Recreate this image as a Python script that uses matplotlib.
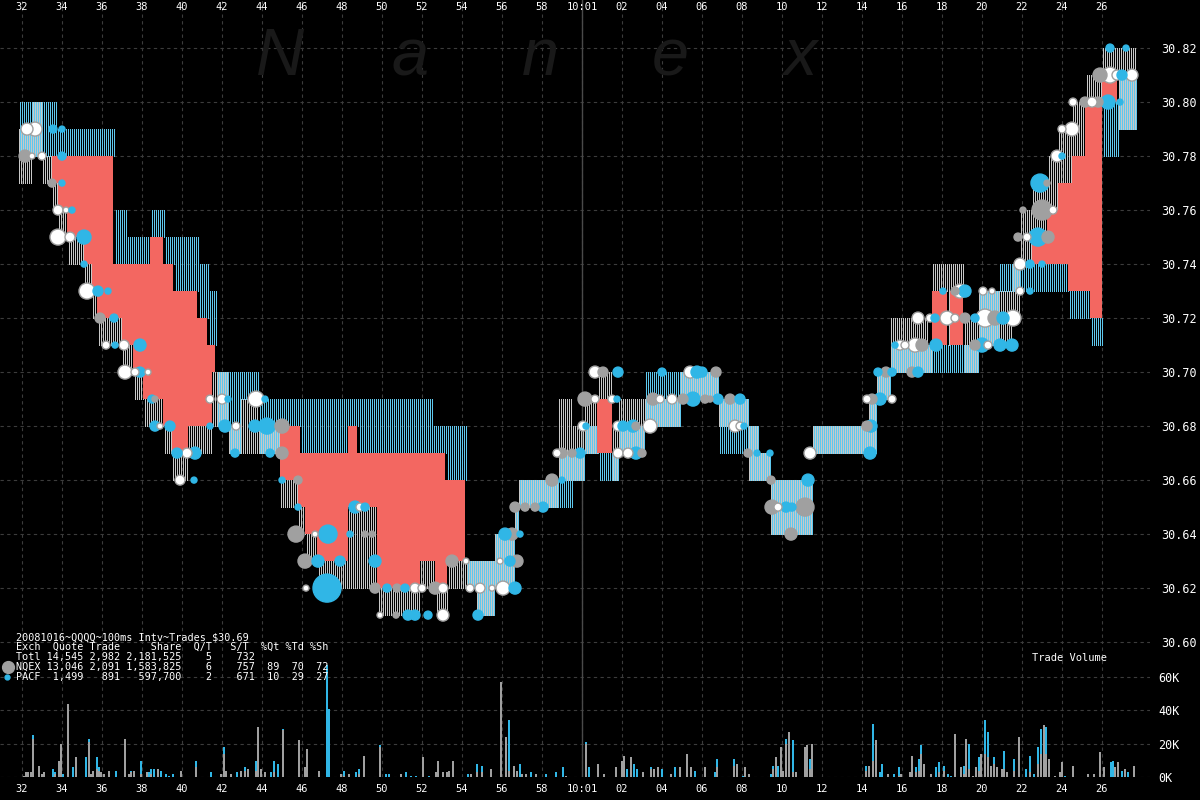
import numpy as np
import matplotlib
matplotlib.use('Agg')
import matplotlib.pyplot as plt
from matplotlib.transforms import blended_transform_factory

# time = seconds after 10:00:00, prices in cents above $30.00

# NQEX quotes (step changes)
NQ_T = [31.8, 32.5, 33.0, 33.5, 33.8, 34.25, 35.1, 35.5, 35.75, 37.0,
        37.55, 38.05, 39.05, 39.5, 40.3, 41.5, 42.25, 42.9, 43.8, 44.9,
        45.8, 46.15, 46.75, 48.3, 49.75, 51.9, 52.65, 53.25, 54.65, 55.55,
        56.55, 56.8, 58.8, 59.5, 60.05, 60.75, 61.5, 61.8, 63.05, 64.9,
        66.8, 68.25, 68.75, 69.4, 71.5, 74.3, 74.65, 75.4, 77.25, 77.5,
        78.25, 78.4, 79.05, 79.75, 81.5, 81.9, 82.5, 83.25, 83.8, 84.5,
        85.15, 86.0, 86.75]
NQ_BID = [77, 78, 77, 76, 75, 74, 73, 72, 71, 70,
          69, 68, 67, 66, 67, 68, 67, 67, 67, 65,
          64, 63, 62, 62, 61, 62, 61, 62, 61, 62,
          64, 65, 66, 66, 67, 69, 66, 67, 68, 69,
          68, 66, 66, 64, 67, 67, 69, 70, 70, 73,
          71, 73, 70, 71, 72, 74, 75, 76, 77, 78,
          80, 81, 79]
NQ_ASK = [79, 80, 78, 77, 76, 75, 74, 73, 72, 71,
          70, 69, 68, 67, 68, 70, 68, 69, 68, 66,
          65, 64, 63, 65, 62, 63, 62, 63, 63, 64,
          65, 66, 69, 68, 69, 70, 68, 69, 69, 70,
          69, 68, 67, 66, 68, 69, 70, 72, 71, 74,
          74, 74, 72, 73, 74, 76, 77, 78, 79, 80,
          81, 82, 82]

# PACF quotes (step changes)
PA_T = [31.8, 33.65, 36.55, 37.15, 38.4, 39.05, 39.55, 40.75, 41.25, 41.65,
        42.25, 42.9, 43.8, 44.9, 45.9, 48.3, 48.75, 52.5, 53.15, 54.15,
        54.65, 55.55, 56.55, 56.8, 58.8, 59.5, 60.05, 60.75, 61.8, 63.05,
        64.9, 66.8, 68.25, 68.75, 69.4, 71.5, 74.3, 74.65, 75.4, 79.75,
        80.8, 84.3, 85.4, 86.0, 86.75]
PA_BID = [78, 78, 74, 74, 75, 74, 73, 72, 71, 68,
          67, 69, 67, 68, 67, 68, 67, 67, 66, 62,
          61, 62, 64, 65, 65, 66, 67, 66, 67, 68,
          69, 67, 66, 66, 64, 67, 67, 69, 70, 71,
          73, 72, 71, 78, 79]
PA_ASK = [80, 79, 76, 75, 76, 75, 75, 74, 73, 70,
          70, 70, 69, 69, 69, 69, 69, 68, 68, 63,
          63, 64, 65, 66, 67, 67, 68, 67, 68, 70,
          70, 69, 68, 67, 66, 68, 69, 70, 71, 73,
          74, 73, 72, 80, 81]
QUOTE_END = 87.65

# trades: time, price (cents), size
NQ_TR_T = [32.15, 33.5, 35.9, 38.65, 45.0, 45.0, 45.8, 45.7, 46.15, 49.15,
           49.5, 49.65, 50.75, 52.65, 50.7, 53.5, 56.75, 56.5, 56.65, 57.15,
           57.65, 58.5, 59.0, 59.5, 60.15, 61.05, 62.7, 63.0, 63.55, 65.05,
           66.15, 66.4, 67.4, 66.7, 68.3, 69.45, 69.5, 71.15, 70.45, 74.25,
           74.5, 75.2, 76.5, 77.0, 78.65, 79.15, 80.65, 79.65, 81.8, 83.3,
           82.05, 83.0, 83.25, 85.15, 85.8, 85.9]
NQ_TR_PX = [78, 77, 72, 69, 68, 67, 66, 64, 63, 64,
            64, 62, 62, 62, 61, 63, 63, 64, 65, 65,
            65, 66, 67, 67, 69, 70, 68, 67, 69, 69,
            69, 69, 69, 70, 67, 66, 65, 65, 64, 68,
            69, 70, 70, 71, 73, 72, 72, 71, 75, 75,
            76, 76, 77, 80, 80, 81]
NQ_TR_SIZE = [6, 4, 5, 3, 7, 6, 4, 8, 7, 3,
              3, 5, 4, 6, 3, 6, 6, 6, 5, 4,
              4, 6, 5, 4, 7, 5, 4, 4, 6, 5,
              4, 3, 5, 5, 4, 4, 7, 9, 6, 5,
              5, 5, 5, 6, 4, 5, 7, 5, 4, 6,
              3, 10, 3, 5, 5, 7]

PA_TR_T = [33.55, 34.0, 34.0, 34.0, 34.5, 35.1, 35.1, 35.8, 36.3, 36.6,
           36.65, 37.9, 37.9, 38.5, 38.65, 39.4, 39.75, 40.65, 40.6, 42.3,
           44.15, 41.4, 42.15, 43.65, 44.25, 42.65, 44.4, 45.0, 45.8, 47.3,
           46.8, 47.9, 47.25, 48.65, 49.15, 48.4, 49.65, 50.25, 51.15, 51.3,
           51.65, 52.3, 56.65, 54.8, 56.4, 56.15, 56.9, 58.05, 59.0, 59.9,
           60.2, 61.75, 61.8, 62.05, 62.55, 62.7, 65.55, 66.8, 67.9, 64.0,
           65.75, 66.0, 68.1, 68.75, 69.4, 70.2, 70.5, 71.3, 74.4, 74.45,
           74.9, 74.8, 75.5, 76.8, 75.65, 77.7, 77.65, 78.05, 79.15, 79.65,
           81.05, 80.0, 80.9, 81.5, 82.4, 82.4, 83.0, 82.8, 82.9, 84.0,
           86.3, 86.9, 87.0, 86.4, 87.2]
PA_TR_PX = [79, 79, 78, 77, 76, 75, 74, 73, 73, 72,
            71, 71, 70, 69, 68, 68, 67, 67, 66, 69,
            69, 68, 68, 68, 68, 67, 67, 66, 65, 64,
            63, 63, 62, 65, 65, 64, 63, 62, 62, 61,
            61, 61, 62, 61, 63, 64, 64, 65, 66, 67,
            68, 69, 70, 68, 68, 67, 69, 69, 69, 70,
            70, 70, 68, 67, 67, 65, 65, 66, 67, 68,
            69, 70, 70, 70, 71, 71, 72, 73, 73, 72,
            72, 71, 71, 71, 73, 74, 74, 75, 77, 78,
            80, 80, 81, 82, 82]
PA_TR_SIZE = [4, 3, 4, 3, 3, 7, 3, 5, 3, 4,
              3, 6, 5, 4, 5, 5, 5, 6, 3, 3,
              3, 3, 6, 6, 8, 4, 4, 3, 3, 9,
              6, 5, 14, 6, 4, 3, 6, 4, 4, 5,
              5, 4, 6, 5, 5, 6, 3, 5, 3, 5,
              3, 3, 5, 5, 6, 6, 7, 5, 5, 4,
              6, 5, 3, 3, 3, 5, 4, 6, 6, 6,
              6, 4, 4, 5, 3, 6, 4, 3, 6, 4,
              6, 7, 6, 6, 3, 4, 3, 9, 9, 3,
              7, 3, 5, 4, 3]

OT_TR_T = [32.25, 32.65, 32.5, 33.0, 33.8, 34.2, 33.8, 34.4, 35.25, 36.2,
           37.1, 37.15, 37.65, 38.3, 38.9, 40.25, 39.9, 41.4, 42.0, 43.7,
           42.7, 46.65, 46.2, 48.9, 51.65, 52.0, 53.05, 49.9, 53.05, 54.2,
           54.4, 54.9, 55.5, 56.05, 55.9, 58.75, 60.05, 60.65, 61.5, 60.65,
           61.8, 63.4, 61.8, 62.3, 63.9, 64.5, 65.4, 67.65, 67.9, 69.8,
           71.4, 74.25, 75.5, 75.9, 76.15, 76.65, 76.8, 77.4, 78.25, 78.65,
           78.9, 80.05, 80.5, 80.15, 81.55, 80.3, 81.9, 81.9, 82.25, 83.55,
           83.75, 84.0, 84.5, 84.55, 85.5, 86.4, 86.75, 87.5]
OT_TR_PX = [79, 79, 78, 78, 76, 76, 75, 75, 73, 71,
            71, 70, 70, 70, 68, 67, 66, 69, 69, 69,
            68, 64, 62, 65, 62, 62, 62, 61, 61, 63,
            62, 62, 62, 62, 63, 67, 68, 69, 69, 70,
            68, 68, 67, 67, 69, 69, 70, 68, 68, 65,
            67, 69, 69, 71, 71, 71, 72, 72, 72, 72,
            73, 73, 73, 72, 72, 71, 73, 74, 75, 76,
            78, 79, 79, 80, 80, 81, 81, 81]
OT_TR_SIZE = [6, 7, 3, 4, 5, 3, 8, 5, 8, 4,
              5, 7, 4, 3, 3, 5, 5, 4, 5, 8,
              4, 3, 3, 4, 5, 4, 5, 3, 6, 3,
              4, 5, 3, 7, 3, 4, 5, 4, 4, 6,
              5, 7, 5, 5, 4, 5, 6, 6, 4, 4,
              6, 4, 4, 5, 4, 7, 6, 4, 7, 4,
              7, 4, 3, 9, 8, 4, 4, 6, 4, 4,
              6, 4, 7, 4, 5, 8, 5, 6]

# volume per 100ms interval, thousands of shares
VOL_T = [32.05, 32.15, 32.25, 32.4, 32.5, 32.8, 32.95, 33.05, 33.5, 33.6,
         33.8, 33.9, 34.0, 34.25, 34.5, 34.65, 35.15, 35.3, 35.4, 35.5,
         35.7, 35.8, 35.9, 36.05, 36.3, 36.65, 37.1, 37.3, 37.4, 37.55,
         37.9, 38.2, 38.3, 38.4, 38.55, 38.75, 38.9, 39.15, 39.3, 39.5,
         39.9, 40.65, 41.4, 41.9, 42.05, 42.15, 42.4, 42.7, 42.9, 43.1,
         43.25, 43.65, 43.75, 43.9, 44.1, 44.4, 44.55, 44.75, 45.0, 45.8,
         46.1, 46.2, 46.8, 47.2, 47.3, 47.9, 48.05, 48.3, 48.65, 48.8,
         49.05, 49.85, 50.15, 50.3, 50.9, 51.15, 51.4, 51.65, 52.0, 52.3,
         52.65, 52.75, 53.0, 53.2, 53.3, 53.5, 54.25, 54.4, 54.7, 54.95,
         55.4, 55.9, 56.15, 56.3, 56.55, 56.7, 56.85, 56.95, 57.15, 57.4,
         57.65, 58.15, 58.65, 59.0, 59.15, 60.15, 60.3, 60.75, 61.05, 61.65,
         61.95, 62.05, 62.2, 62.4, 62.55, 62.7, 63.0, 63.4, 63.55, 63.75,
         63.95, 64.4, 64.6, 64.85, 65.2, 65.4, 65.6, 66.1, 66.6, 66.7,
         67.55, 67.7, 68.0, 68.1, 68.3, 69.4, 69.5, 69.65, 69.75, 69.9,
         70.0, 70.15, 70.3, 70.5, 70.65, 71.1, 71.2, 71.35, 71.45, 74.15,
         74.3, 74.5, 74.65, 74.85, 74.95, 75.25, 75.55, 75.8, 75.9, 76.35,
         76.45, 76.65, 76.8, 76.9, 77.05, 77.4, 77.65, 77.8, 78.05, 78.25,
         78.4, 78.6, 78.9, 79.05, 79.15, 79.3, 79.5, 79.65, 79.8, 79.9,
         80.1, 80.25, 80.4, 80.55, 80.7, 80.95, 81.05, 81.2, 81.55, 81.8,
         82.15, 82.35, 82.55, 82.75, 82.9, 83.05, 83.15, 83.3, 83.6, 83.85,
         83.95, 84.1, 84.5, 85.25, 85.55, 85.85, 86.05, 86.4, 86.5, 86.6,
         86.75, 86.95, 87.1, 87.25, 87.55]
VOL_NQ = [1, 3, 3, 3, 23, 7, 2, 3, 0, 2,
          10, 20, 0, 44, 0, 12, 0, 21, 2, 4,
          5, 4, 3, 2, 4, 0, 23, 2, 3, 4,
          2, 3, 0, 2, 0, 5, 0, 0, 0, 0,
          4, 6, 0, 2, 14, 4, 2, 0, 4, 4,
          5, 4, 30, 5, 3, 0, 3, 0, 28, 22,
          6, 17, 4, 0, 0, 2, 1, 2, 0, 2,
          13, 18, 0, 0, 2, 0, 0, 0, 12, 0,
          3, 10, 3, 3, 4, 10, 0, 2, 3, 3,
          5, 57, 24, 4, 7, 4, 0, 2, 2, 0,
          2, 0, 0, 0, 1, 20, 0, 8, 2, 6,
          10, 13, 0, 12, 0, 0, 3, 5, 5, 6,
          0, 2, 0, 6, 14, 6, 0, 6, 0, 6,
          7, 8, 0, 6, 2, 0, 5, 12, 0, 18,
          4, 20, 27, 3, 3, 18, 19, 5, 20, 4,
          7, 10, 22, 0, 0, 2, 0, 1, 2, 3,
          13, 3, 4, 14, 8, 2, 0, 3, 4, 0,
          0, 26, 6, 2, 23, 5, 1, 6, 4, 14,
          14, 12, 7, 8, 6, 5, 5, 3, 4, 24,
          0, 3, 0, 8, 14, 31, 14, 11, 1, 3,
          9, 0, 7, 2, 2, 15, 6, 0, 0, 6,
          9, 0, 5, 0, 7]
VOL_PA = [0, 0, 0, 0, 2, 0, 0, 0, 5, 1,
          0, 0, 2, 0, 6, 0, 12, 2, 0, 0,
          7, 2, 0, 0, 0, 4, 0, 0, 1, 0,
          8, 0, 3, 3, 5, 0, 4, 2, 1, 2,
          0, 4, 3, 0, 4, 0, 0, 3, 0, 2,
          0, 6, 0, 0, 0, 3, 7, 8, 1, 0,
          0, 0, 0, 67, 41, 0, 3, 0, 3, 3,
          0, 1, 2, 2, 0, 3, 1, 1, 0, 1,
          0, 0, 0, 0, 0, 0, 2, 0, 5, 4,
          0, 0, 0, 30, 0, 0, 8, 0, 0, 3,
          0, 2, 3, 6, 0, 1, 6, 0, 0, 0,
          0, 0, 5, 0, 8, 5, 0, 1, 0, 0,
          5, 0, 6, 0, 0, 0, 4, 0, 3, 5,
          4, 0, 1, 0, 0, 2, 2, 0, 7, 0,
          0, 3, 0, 19, 0, 0, 0, 6, 0, 3,
          0, 22, 0, 3, 8, 0, 2, 5, 0, 0,
          0, 3, 7, 5, 0, 0, 6, 6, 3, 2,
          1, 0, 0, 5, 0, 15, 0, 0, 8, 0,
          20, 15, 0, 4, 0, 0, 11, 0, 7, 0,
          5, 10, 2, 10, 15, 0, 16, 0, 0, 0,
          0, 1, 0, 0, 0, 0, 0, 9, 10, 0,
          0, 4, 0, 3, 0]

X_TICKS = list(range(32, 88, 2))
X_LABELS = ['32', '34', '36', '38', '40', '42', '44', '46', '48', '50',
            '52', '54', '56', '58', '10:01', '02', '04', '06', '08', '10',
            '12', '14', '16', '18', '20', '22', '24', '26']
PRICE_TICKS = [30.60, 30.62, 30.64, 30.66, 30.68, 30.70, 30.72, 30.74,
               30.76, 30.78, 30.80, 30.82]
VOL_TICKS = [0, 20, 40, 60]
VOL_LABELS = ['0K', '20K', '40K', '60K']

SUMMARY = [
    '20081016~QQQQ~100ms Intv~Trades $30.69',
    'Exch  Quote Trade     Share  Q/T   S/T  %Qt %Td %Sh',
    'Totl 14,545 2,982 2,181,525    5    732',
    'NQEX 13,046 2,091 1,583,825    6    757  89  70  72',
    'PACF  1,499   891   597,700    2    671  10  29  27',
]

GRID = '#3c3c3c'
GRAY_Q = '#c8c8c8'
CYAN_Q = '#5ec8ee'
RED = '#f36761'
GRAY_T = '#a0a0a0'
CYAN_T = '#30b6e6'


def step_values(t_break, vals, t):
    idx = np.searchsorted(t_break, t, side='right') - 1
    return np.asarray(vals, dtype=float)[idx]


def cents(c):
    return 30.0 + np.asarray(c, dtype=float) / 100.0


def msize(sz):
    # trade size -> marker area (points^2)
    return (1.44 * np.asarray(sz, dtype=float)) ** 2


plt.rcParams['font.family'] = 'DejaVu Sans Mono'
fig = plt.figure(figsize=(12, 8), dpi=100, facecolor='black')
W = 1150 / 1200
ax = fig.add_axes([0, 156 / 800, W, 644 / 800], facecolor='black')
axv = fig.add_axes([0, 22.7 / 800, W, 133.3 / 800], facecolor='black', sharex=ax)

for a in (ax, axv):
    for sp in a.spines.values():
        sp.set_visible(False)
    a.set_xlim(30.9, 88.4)
    a.set_xticks(X_TICKS)
    a.grid(True, color=GRID, linestyle=(0, (3, 3)), linewidth=0.8)
    a.set_axisbelow(True)
    a.axvline(60, color='#4a4a4a', linewidth=1.0, zorder=1)

# price panel
ax.set_ylim(30.5993, 30.8378)
ax.set_yticks(PRICE_TICKS)
ax.set_yticklabels(['%.2f' % p for p in PRICE_TICKS])
ax.yaxis.tick_right()
ax.tick_params(axis='y', colors='white', labelsize=8.5, length=0, pad=8)
ax.tick_params(axis='x', length=0, labelbottom=False, labeltop=False)

tr = blended_transform_factory(ax.transData, ax.transAxes)
for t, lab in zip(X_TICKS, X_LABELS):
    ax.text(t, 1 - 7 / 644, lab, transform=tr, ha='center', va='center',
            color='white', fontsize=7.5)

# watermark
for xp, ch in zip([280, 410, 540, 670, 800], 'Nanex'):
    fig.text(xp / 1200, 1 - 75 / 800, ch, ha='center', va='baseline',
             fontsize=48, style='italic', color='#191919',
             family='Liberation Sans', zorder=0)

# quote hatching, one line per 100ms per exchange
slots = np.arange(31.8, QUOTE_END - 1e-6, 0.1)
nb = step_values(NQ_T, NQ_BID, slots)
na = step_values(NQ_T, NQ_ASK, slots)
pb = step_values(PA_T, PA_BID, slots)
pa = step_values(PA_T, PA_ASK, slots)
ax.vlines(slots + 0.025, cents(nb), cents(na), colors=GRAY_Q,
          linewidth=0.72, antialiased=False, zorder=2)
ax.vlines(slots + 0.075, cents(pb), cents(pa), colors=CYAN_Q,
          linewidth=0.72, antialiased=False, zorder=2)

# crossed market: best bid above best ask
edges = sorted(set(NQ_T) | set(PA_T)) + [QUOTE_END]
e0 = np.array(edges[:-1])
e1 = np.array(edges[1:])
hb = np.maximum(step_values(NQ_T, NQ_BID, e0), step_values(PA_T, PA_BID, e0))
la = np.minimum(step_values(NQ_T, NQ_ASK, e0), step_values(PA_T, PA_ASK, e0))
cross = hb > la
ax.bar(e0[cross], cents(hb[cross]) - cents(la[cross]), width=(e1 - e0)[cross],
       bottom=cents(la[cross]), align='edge', color=RED, linewidth=0,
       antialiased=False, zorder=3)

# trades
groups = [
    (NQ_TR_T, NQ_TR_PX, NQ_TR_SIZE, GRAY_T, GRAY_T),
    (OT_TR_T, OT_TR_PX, OT_TR_SIZE, 'white', GRAY_T),
    (PA_TR_T, PA_TR_PX, PA_TR_SIZE, CYAN_T, CYAN_T),
]
pts = []
for tt, pp, ss, fc, ec in groups:
    for t, p, s in zip(tt, pp, ss):
        pts.append((s, t, p, fc, ec))
pts.sort(key=lambda r: -r[0])
sz = np.array([r[0] for r in pts])
ax.scatter([r[1] for r in pts], cents([r[2] for r in pts]), s=msize(sz),
           c=[r[3] for r in pts], edgecolors=[r[4] for r in pts],
           linewidths=1.0, zorder=4)

# volume panel
axv.set_ylim(0, 79.6)
axv.set_yticks(VOL_TICKS)
axv.set_yticklabels(VOL_LABELS)
axv.yaxis.tick_right()
axv.tick_params(axis='y', colors='white', labelsize=8.5, length=0, pad=6)
axv.set_xticklabels(X_LABELS)
axv.tick_params(axis='x', colors='white', labelsize=7.5, length=0, pad=5)
axv.bar(VOL_T, VOL_NQ, width=0.1, align='edge', color=GRAY_T,
        linewidth=0, antialiased=False, zorder=2)
axv.bar(VOL_T, VOL_PA, width=0.1, bottom=VOL_NQ, align='edge', color=CYAN_T,
        linewidth=0, antialiased=False, zorder=2)
axv.text(1032 / 1150, 1 - 14 / 133.3, 'Trade Volume', transform=axv.transAxes,
         color='white', fontsize=7.5, va='center', ha='left')

# summary block
for i, line in enumerate(SUMMARY):
    fig.text(16 / 1200, 1 - (637 + 10 * i) / 800, line, color='white',
             fontsize=7.3, va='center', ha='left', family='DejaVu Sans Mono')
fig.lines.append(plt.Line2D([8 / 1200], [1 - 667 / 800], marker='o',
                            markersize=8.5, color=GRAY_T,
                            transform=fig.transFigure))
fig.lines.append(plt.Line2D([7 / 1200], [1 - 677 / 800], marker='o',
                            markersize=3.5, color=CYAN_T,
                            transform=fig.transFigure))

fig.savefig('out.png', dpi=100, facecolor='black')
